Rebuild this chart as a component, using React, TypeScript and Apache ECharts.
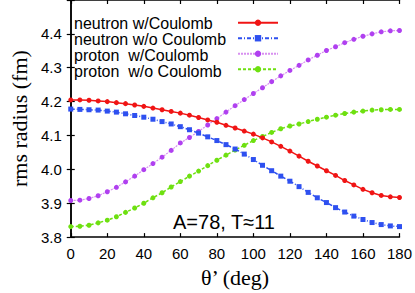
import React, { useEffect, useRef } from "react";
import * as echarts from "echarts";

const angles = [0, 5, 10, 15, 20, 25, 30, 35, 40, 45, 50, 55, 60, 65, 70, 75, 80, 85, 90, 95, 100, 105, 110, 115, 120, 125, 130, 135, 140, 145, 150, 155, 160, 165, 170, 175, 180];
const neutronWith = [4.205, 4.205, 4.204, 4.202, 4.200, 4.197, 4.194, 4.190, 4.186, 4.181, 4.176, 4.171, 4.166, 4.160, 4.153, 4.146, 4.139, 4.130, 4.122, 4.113, 4.104, 4.093, 4.081, 4.068, 4.054, 4.039, 4.024, 4.010, 3.996, 3.982, 3.967, 3.954, 3.941, 3.931, 3.923, 3.919, 3.917];
const neutronWithout = [4.178, 4.177, 4.176, 4.175, 4.172, 4.169, 4.164, 4.159, 4.154, 4.148, 4.141, 4.134, 4.126, 4.117, 4.107, 4.096, 4.085, 4.073, 4.060, 4.045, 4.029, 4.012, 3.996, 3.980, 3.965, 3.949, 3.932, 3.916, 3.902, 3.887, 3.874, 3.862, 3.852, 3.843, 3.837, 3.833, 3.831];
const protonWith = [3.908, 3.909, 3.914, 3.922, 3.934, 3.947, 3.963, 3.980, 3.999, 4.017, 4.036, 4.056, 4.078, 4.094, 4.112, 4.131, 4.150, 4.169, 4.188, 4.206, 4.224, 4.241, 4.259, 4.276, 4.292, 4.307, 4.323, 4.337, 4.351, 4.362, 4.374, 4.384, 4.393, 4.400, 4.406, 4.409, 4.410];
const protonWithout = [3.831, 3.832, 3.835, 3.842, 3.850, 3.860, 3.873, 3.886, 3.900, 3.916, 3.931, 3.948, 3.964, 3.980, 3.995, 4.011, 4.027, 4.042, 4.057, 4.071, 4.085, 4.097, 4.109, 4.120, 4.128, 4.134, 4.141, 4.148, 4.154, 4.160, 4.165, 4.169, 4.172, 4.175, 4.176, 4.177, 4.177];
const seriesNames = ["neutron w/Coulomb", "neutron w/o Coulomb", "proton  w/Coulomb", "proton  w/o Coulomb"];
const xTitle = "θ’ (deg)";
const yTitle = "rms radius (fm)";
const annotation = "A=78, T≈11";

const pair = (ys: number[]) => angles.map((a, i) => [a, ys[i]]);

export default function App() {
  const ref = useRef<HTMLDivElement>(null);
  useEffect(() => {
    if (!ref.current) return;
    const chart = echarts.init(ref.current, undefined, { renderer: "svg" });
    const sans = "'Liberation Sans', Arial, Helvetica, sans-serif";
    const serif = "'Liberation Serif', 'Times New Roman', serif";
    const axisLine = { show: true, lineStyle: { color: "#000", width: 1.5 } };
    const tick = { show: true, inside: true, length: 4, lineStyle: { color: "#000", width: 1.2 } };
    const rowH = 15.5;
    chart.setOption({
      animation: false,
      backgroundColor: "#fff",
      grid: { left: 61, right: 13.5, top: 0, bottom: 48, containLabel: false },
      legend: [
        {
          show: true,
          orient: "vertical",
          left: 64,
          top: 10,
          align: "left",
          itemWidth: 0,
          itemHeight: 1,
          itemGap: 0,
          icon: "rect",
          itemStyle: { opacity: 0 },
          lineStyle: { opacity: 0 },
          textStyle: { fontFamily: sans, fontSize: 16, color: "#000", lineHeight: rowH },
          data: seriesNames,
        },
        {
          show: true,
          orient: "vertical",
          left: 232,
          top: 10,
          align: "left",
          itemWidth: 40,
          itemHeight: 8,
          itemGap: 0,
          formatter: () => " ",
          textStyle: { fontFamily: sans, fontSize: 15, color: "#000", lineHeight: rowH },
          data: seriesNames,
        },
      ],
      xAxis: [
        {
          type: "value",
          min: 0,
          max: 180,
          interval: 20,
          position: "bottom",
          axisLine,
          axisTick: tick,
          splitLine: { show: false },
          axisLabel: { margin: 9, fontFamily: sans, fontSize: 15, color: "#000" },
          name: xTitle,
          nameLocation: "middle",
          nameGap: 26,
          nameTextStyle: { fontFamily: serif, fontSize: 22, color: "#000" },
        },
        {
          type: "value",
          min: 0,
          max: 180,
          interval: 20,
          position: "top",
          axisLine,
          axisTick: tick,
          splitLine: { show: false },
          axisLabel: { show: false },
        },
      ],
      yAxis: [
        {
          type: "value",
          min: 3.8,
          max: 4.5,
          interval: 0.1,
          position: "left",
          axisLine,
          axisTick: tick,
          splitLine: { show: false },
          axisLabel: {
            margin: 9,
            fontFamily: sans,
            fontSize: 15,
            color: "#000",
            formatter: (v: number) => (v > 4.45 ? "" : v.toFixed(1)),
          },
          name: yTitle,
          nameLocation: "middle",
          nameRotate: 90,
          nameGap: 32,
          nameTextStyle: { fontFamily: serif, fontSize: 22, color: "#000" },
        },
        {
          type: "value",
          min: 3.8,
          max: 4.5,
          interval: 0.1,
          position: "right",
          axisLine,
          axisTick: tick,
          splitLine: { show: false },
          axisLabel: { show: false },
        },
      ],
      graphic: [
        {
          type: "text",
          left: 173,
          top: 212,
          style: { text: annotation, font: `20px ${sans}`, fill: "#000" },
        },
      ],
      series: [
        {
          name: seriesNames[0],
          type: "line",
          data: pair(neutronWith),
          symbol: "circle",
          symbolSize: 5,
          color: "#f01414",
          lineStyle: { color: "#f01414", width: 1.5, type: "solid" },
          itemStyle: { color: "#f01414" },
          z: 4,
        },
        {
          name: seriesNames[1],
          type: "line",
          data: pair(neutronWithout),
          symbol: "rect",
          symbolSize: 5,
          color: "#2e50f0",
          lineStyle: { color: "#2e50f0", width: 1.5, type: [4, 2, 1, 2] },
          itemStyle: { color: "#2e50f0" },
          z: 3,
        },
        {
          name: seriesNames[2],
          type: "line",
          data: pair(protonWith),
          symbol: "circle",
          symbolSize: 5,
          color: "#b040f0",
          lineStyle: { color: "#d890f0", width: 1.2, type: [2, 1] },
          itemStyle: { color: "#b040f0" },
          z: 2,
        },
        {
          name: seriesNames[3],
          type: "line",
          data: pair(protonWithout),
          symbol: "circle",
          symbolSize: 5,
          color: "#6ee010",
          lineStyle: { color: "#6ee010", width: 1.5, type: [3, 2] },
          itemStyle: { color: "#6ee010" },
          z: 1,
        },
      ],
    });
    return () => chart.dispose();
  }, []);
  return (
    <div
      ref={ref}
      style={{ position: "fixed", left: 0, top: 0, width: 415, height: 293, background: "#fff" }}
    />
  );
}
